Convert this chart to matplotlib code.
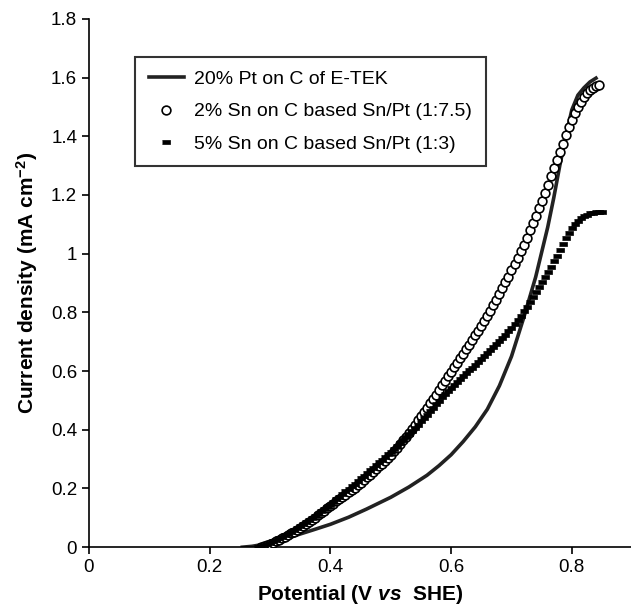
import matplotlib
matplotlib.use("Agg")
import matplotlib.pyplot as plt

plt.rcParams['font.family'] = ['Liberation Sans', 'DejaVu Sans']
plt.rcParams['mathtext.fontset'] = 'custom'
plt.rcParams['mathtext.it'] = 'Liberation Sans:bold:italic'
plt.rcParams['mathtext.rm'] = 'Liberation Sans'
plt.rcParams['mathtext.default'] = 'regular'

# 20% Pt on C of E-TEK (solid line)
pt_x = [0.254, 0.27, 0.29, 0.31, 0.33, 0.35, 0.37, 0.40, 0.43, 0.46, 0.50, 0.53,
        0.56, 0.58, 0.60, 0.62, 0.64, 0.66, 0.68, 0.70, 0.72, 0.74, 0.76, 0.77,
        0.78, 0.79, 0.80, 0.81, 0.82, 0.83, 0.84]
pt_y = [0.000, 0.003, 0.010, 0.020, 0.032, 0.045, 0.058, 0.078, 0.102, 0.130, 0.170, 0.205,
        0.245, 0.278, 0.315, 0.360, 0.410, 0.470, 0.550, 0.650, 0.780, 0.920, 1.090, 1.190,
        1.300, 1.400, 1.490, 1.540, 1.565, 1.585, 1.598]

# 2% Sn on C based Sn/Pt (1:7.5), open circles
sn2_x = [0.285, 0.290, 0.295, 0.300, 0.305, 0.310, 0.315, 0.320, 0.325, 0.330,
         0.335, 0.340, 0.345, 0.350, 0.355, 0.360, 0.365, 0.370, 0.375, 0.380,
         0.385, 0.390, 0.395, 0.400, 0.405, 0.410, 0.415, 0.420, 0.425, 0.430,
         0.435, 0.440, 0.445, 0.450, 0.455, 0.460, 0.465, 0.470, 0.475, 0.480,
         0.485, 0.490, 0.495, 0.500, 0.505, 0.510, 0.515, 0.520, 0.525, 0.530,
         0.535, 0.540, 0.545, 0.550, 0.555, 0.560, 0.565, 0.570, 0.575, 0.580,
         0.585, 0.590, 0.595, 0.600, 0.605, 0.610, 0.615, 0.620, 0.625, 0.630,
         0.635, 0.640, 0.645, 0.650, 0.655, 0.660, 0.665, 0.670, 0.675, 0.680,
         0.685, 0.690, 0.695, 0.700, 0.705, 0.710, 0.715, 0.720, 0.725, 0.730,
         0.735, 0.740, 0.745, 0.750, 0.755, 0.760, 0.765, 0.770, 0.775, 0.780,
         0.785, 0.790, 0.795, 0.800, 0.805, 0.810, 0.815, 0.820, 0.825, 0.830,
         0.835, 0.840, 0.845]
sn2_y = [0.000, 0.003, 0.007, 0.012, 0.016, 0.021, 0.025, 0.030, 0.036, 0.042,
         0.048, 0.053, 0.059, 0.065, 0.072, 0.079, 0.086, 0.093, 0.100, 0.108,
         0.116, 0.124, 0.132, 0.140, 0.148, 0.156, 0.163, 0.171, 0.179, 0.187,
         0.195, 0.203, 0.211, 0.220, 0.229, 0.238, 0.247, 0.256, 0.265, 0.275,
         0.285, 0.295, 0.305, 0.315, 0.327, 0.339, 0.352, 0.364, 0.377, 0.390,
         0.404, 0.418, 0.432, 0.446, 0.460, 0.475, 0.490, 0.505, 0.520, 0.535,
         0.551, 0.566, 0.582, 0.598, 0.613, 0.628, 0.643, 0.658, 0.674, 0.690,
         0.706, 0.722, 0.738, 0.754, 0.771, 0.788, 0.806, 0.824, 0.843, 0.862,
         0.882, 0.902, 0.922, 0.943, 0.964, 0.985, 1.008, 1.031, 1.055, 1.079,
         1.104, 1.129, 1.155, 1.181, 1.208, 1.235, 1.263, 1.291, 1.319, 1.347,
         1.375, 1.403, 1.430, 1.455, 1.478, 1.499, 1.517, 1.533, 1.546, 1.556,
         1.564, 1.570, 1.574]

# 5% Sn on C based Sn/Pt (1:3), small filled squares
sn5_x = [0.280, 0.285, 0.290, 0.295, 0.300, 0.305, 0.310, 0.315, 0.320, 0.325,
         0.330, 0.335, 0.340, 0.345, 0.350, 0.355, 0.360, 0.365, 0.370, 0.375,
         0.380, 0.385, 0.390, 0.395, 0.400, 0.405, 0.410, 0.415, 0.420, 0.425,
         0.430, 0.435, 0.440, 0.445, 0.450, 0.455, 0.460, 0.465, 0.470, 0.475,
         0.480, 0.485, 0.490, 0.495, 0.500, 0.505, 0.510, 0.515, 0.520, 0.525,
         0.530, 0.535, 0.540, 0.545, 0.550, 0.555, 0.560, 0.565, 0.570, 0.575,
         0.580, 0.585, 0.590, 0.595, 0.600, 0.605, 0.610, 0.615, 0.620, 0.625,
         0.630, 0.635, 0.640, 0.645, 0.650, 0.655, 0.660, 0.665, 0.670, 0.675,
         0.680, 0.685, 0.690, 0.695, 0.700, 0.705, 0.710, 0.715, 0.720, 0.725,
         0.730, 0.735, 0.740, 0.745, 0.750, 0.755, 0.760, 0.765, 0.770, 0.775,
         0.780, 0.785, 0.790, 0.795, 0.800, 0.805, 0.810, 0.815, 0.820, 0.825,
         0.830, 0.835, 0.840, 0.845, 0.850]
sn5_y = [0.000, 0.004, 0.008, 0.011, 0.015, 0.020, 0.025, 0.030, 0.035, 0.040,
         0.045, 0.051, 0.058, 0.065, 0.071, 0.078, 0.085, 0.092, 0.099, 0.107,
         0.114, 0.122, 0.129, 0.137, 0.145, 0.154, 0.163, 0.172, 0.181, 0.190,
         0.199, 0.208, 0.217, 0.226, 0.235, 0.244, 0.253, 0.262, 0.271, 0.280,
         0.289, 0.298, 0.307, 0.316, 0.325, 0.335, 0.345, 0.355, 0.365, 0.375,
         0.385, 0.396, 0.407, 0.418, 0.429, 0.440, 0.451, 0.463, 0.475, 0.487,
         0.499, 0.511, 0.522, 0.533, 0.544, 0.554, 0.564, 0.574, 0.583, 0.593,
         0.602, 0.612, 0.621, 0.631, 0.641, 0.651, 0.661, 0.671, 0.681, 0.691,
         0.702, 0.713, 0.724, 0.735, 0.747, 0.760, 0.774, 0.789, 0.804, 0.820,
         0.836, 0.853, 0.870, 0.887, 0.904, 0.921, 0.938, 0.956, 0.974, 0.993,
         1.013, 1.034, 1.054, 1.072, 1.088, 1.101, 1.112, 1.121, 1.128, 1.133,
         1.137, 1.140, 1.142, 1.143, 1.143]

labels = ['20% Pt on C of E-TEK',
          '2% Sn on C based Sn/Pt (1:7.5)',
          '5% Sn on C based Sn/Pt (1:3)']

rect = [(-1, -0.55), (1, -0.55), (1, 0.55), (-1, 0.55)]

fig = plt.figure(figsize=(6.31, 6.08), dpi=100)
ax = fig.add_axes([0.141, 0.100, 0.859, 0.869])

ax.plot(pt_x, pt_y, color='#222222', lw=2.6, label=labels[0], zorder=2)
ax.plot(sn2_x, sn2_y, ls='none', marker='o', ms=6.3, mfc='white', mec='black',
        mew=1.2, label=labels[1], zorder=3)
ax.plot(sn5_x, sn5_y, ls='none', marker=rect, ms=5.5, mfc='black', mec='black',
        mew=0.5, label=labels[2], zorder=3)

ax.set_xlim(0, 0.898)
ax.set_ylim(0, 1.8)
ax.set_xticks([0, 0.2, 0.4, 0.6, 0.8])
ax.set_xticklabels(['0', '0.2', '0.4', '0.6', '0.8'])
ax.set_yticks([0, 0.2, 0.4, 0.6, 0.8, 1.0, 1.2, 1.4, 1.6, 1.8])
ax.set_yticklabels(['0', '0.2', '0.4', '0.6', '0.8', '1', '1.2', '1.4', '1.6', '1.8'])
ax.spines['top'].set_visible(False)
ax.spines['right'].set_visible(False)
for s in ['left', 'bottom']:
    ax.spines[s].set_linewidth(1.2)
ax.tick_params(direction='out', length=5, width=1.2, labelsize=13.5, colors='black')

ax.set_xlabel(r'Potential (V $\mathit{vs}$  SHE)', fontsize=15, fontweight='bold', labelpad=5)
ax.set_ylabel(r'Current density (mA cm$^{-2}$)', fontsize=15, fontweight='bold', labelpad=8)

leg = ax.legend(loc='upper left', bbox_to_anchor=(0.085, 0.928), borderaxespad=0,
                fontsize=14, frameon=True, fancybox=False, edgecolor='black',
                handlelength=1.8, borderpad=0.7, labelspacing=0.75, handletextpad=0.55)
leg.get_frame().set_linewidth(1.5)

fig.savefig('out.png', dpi=100)
